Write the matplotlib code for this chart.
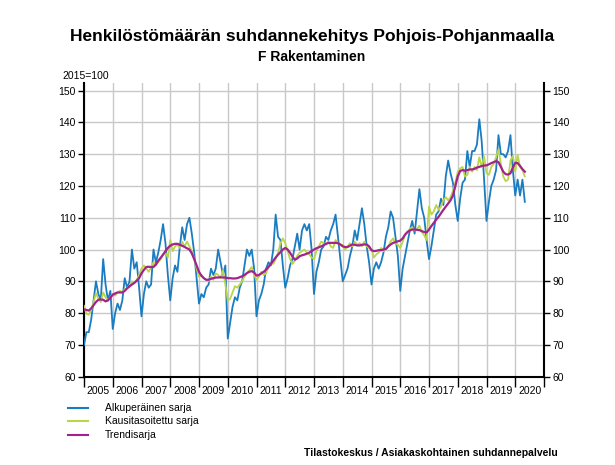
import numpy as np
import matplotlib
matplotlib.use("Agg")
import matplotlib.pyplot as plt
from matplotlib.ticker import FixedLocator, NullFormatter, FixedFormatter

plt.rcParams['font.family'] = ['Liberation Sans', 'DejaVu Sans']

title = "Henkilöstömäärän suhdannekehitys Pohjois-Pohjanmaalla"
subtitle = "F Rakentaminen"
base_label = "2015=100"
source = "Tilastokeskus / Asiakaskohtainen suhdannepalvelu"
series_names = ["Alkuperäinen sarja", "Kausitasoitettu sarja", "Trendisarja"]
start_year = 2005
years = list(range(2005, 2021))

# Monthly values, Jan 2005 - May 2020
original = [
    70, 74, 74, 78, 84, 90, 86, 84, 97, 89, 84, 87,            # 2005
    75, 80, 83, 81, 84, 91, 88, 90, 100, 94, 96, 88,           # 2006
    79, 86, 90, 88, 89, 100, 96, 99, 103, 108, 102, 92,        # 2007
    84, 91, 95, 93, 101, 107, 103, 108, 110, 105, 99, 91,      # 2008
    83, 86, 85, 88, 89, 94, 92, 94, 100, 96, 92, 95,           # 2009
    72, 77, 82, 85, 84, 88, 90, 95, 100, 98, 100, 94,          # 2010
    79, 84, 86, 89, 94, 96, 95, 100, 111, 104, 103, 95,        # 2011
    88, 91, 95, 97, 101, 105, 100, 106, 108, 106, 108, 100,    # 2012
    86, 93, 96, 100, 101, 104, 103, 106, 108, 111, 104, 97,    # 2013
    90, 92, 94, 98, 101, 106, 103, 108, 113, 108, 101, 96,     # 2014
    89, 94, 96, 94, 96, 99, 104, 107, 112, 110, 104, 98,       # 2015
    87, 94, 98, 102, 106, 109, 105, 112, 119, 113, 110, 103,   # 2016
    97, 101, 106, 111, 112, 116, 114, 123, 128, 124, 121, 114, # 2017
    109, 116, 121, 122, 131, 126, 131, 131, 133, 141, 134, 122, # 2018
    109, 115, 120, 122, 125, 136, 130, 130, 129, 131, 136, 125, # 2019
    117, 122, 117, 122, 115,                                   # 2020
]

seasonal_adj = [
    82.3, 79.8, 79.5, 81.0, 83.5, 86.3, 84.5, 83.5, 86.5, 85.0, 84.0, 85.0,
    86.0, 85.5, 86.5, 87.0, 86.5, 87.5, 88.0, 88.5, 90.0, 89.5, 90.5, 92.0,
    94.0, 95.0, 94.0, 93.0, 94.5, 96.0, 95.0, 96.0, 97.0, 98.5, 99.0, 97.5,
    103.0, 99.5, 101.0, 101.5, 100.5, 102.5, 101.0, 102.5, 101.0, 99.5, 97.0, 94.0,
    91.5, 92.0, 91.0, 90.5, 90.0, 91.5, 90.5, 92.5, 92.0, 91.0, 93.5, 89.0,
    84.0, 84.5, 86.5, 88.5, 88.0, 89.0, 90.0, 91.5, 92.5, 93.5, 94.5, 92.0,
    90.5, 91.5, 93.0, 92.0, 92.5, 94.5, 95.5, 95.5, 97.0, 99.0, 102.0, 103.5,
    102.0, 99.5, 97.0, 95.5, 96.5, 98.0, 99.0, 99.5, 100.0, 99.0, 98.5, 97.5,
    97.0, 99.5, 101.0, 102.5, 102.0, 101.5, 102.5, 101.0, 100.5, 103.0, 102.0, 101.5,
    101.5, 100.0, 101.0, 102.0, 101.0, 102.5, 101.5, 102.0, 101.0, 102.5, 101.0, 100.5,
    100.0, 97.5, 98.5, 99.0, 100.5, 99.5, 100.0, 101.0, 102.5, 103.5, 102.0, 101.5,
    100.5, 102.5, 104.5, 105.5, 106.5, 107.0, 106.0, 106.5, 107.5, 105.5, 104.5, 103.0,
    113.5, 111.0, 112.0, 114.0, 112.5, 113.5, 115.5, 116.5, 115.5, 116.5, 118.5, 121.0,
    124.5, 125.5, 126.0, 123.0, 123.5, 126.0, 124.5, 126.0, 125.0, 129.0, 126.0, 129.3,
    124.0, 123.5, 126.0, 127.0, 129.0, 131.5, 127.0, 123.0, 121.5, 122.0, 128.0, 129.5,
    124.5, 129.8, 126.0, 125.0, 123.0,
]

trend = [
    81.2, 81.0, 80.8, 81.5, 82.5, 83.5, 84.2, 84.3, 84.2, 83.7, 84.0, 84.8,
    85.8, 86.2, 86.5, 86.5, 86.5, 87.0, 87.8, 88.4, 89.0, 89.5, 90.2, 91.0,
    92.5, 93.6, 94.5, 94.6, 94.5, 94.5, 95.3, 96.5, 97.4, 98.4, 99.5, 100.5,
    101.2, 101.6, 101.8, 101.8, 101.5, 101.2, 100.8, 100.4, 100.0, 98.8, 97.0, 95.0,
    93.0, 91.8, 91.0, 90.5, 90.5, 90.8, 91.0, 91.2, 91.2, 91.3, 91.2, 91.2,
    91.0, 91.0, 90.9, 90.9, 91.0, 91.3, 91.6, 92.0, 92.6, 93.0, 93.2, 92.8,
    91.8, 92.0, 92.5, 93.0, 93.7, 94.5, 95.5, 96.5, 97.5, 98.4, 99.2, 100.0,
    100.5, 100.0, 99.0, 97.8, 96.8, 97.2, 97.9, 98.2, 98.4, 98.7, 99.0, 99.5,
    100.0, 100.4, 100.7, 101.0, 101.4, 101.8, 102.1, 102.1, 102.1, 102.1, 102.0, 101.6,
    101.0, 100.8, 100.8, 101.2, 101.6, 101.5, 101.3, 101.3, 101.5, 101.6, 101.6, 101.0,
    99.8, 99.5, 99.6, 99.8, 99.8, 100.0, 100.2, 101.0, 101.6, 102.1, 102.3, 102.6,
    102.8, 103.5, 104.7, 105.5, 106.0, 106.3, 106.3, 106.2, 106.1, 105.8, 105.5, 105.4,
    106.3, 107.4, 108.4, 109.4, 110.3, 111.4, 112.5, 113.5, 114.5, 115.5, 117.0, 120.0,
    123.0, 124.7, 125.0, 124.8, 125.0, 125.2, 125.2, 125.4, 125.8, 126.0, 126.3, 126.4,
    126.5, 126.8, 127.2, 127.5, 127.8, 127.5, 126.0, 124.5, 123.7, 123.6, 124.0, 125.8,
    127.3, 127.2, 126.3, 125.3, 124.5,
]

colors = ["#1a7cc1", "#b9d54a", "#a3228e"]

t = start_year + np.arange(len(original)) / 12.0

fig = plt.figure(figsize=(6.15, 4.65), dpi=100)
ax = fig.add_axes([84 / 615, 1 - 376.7 / 465, (544 - 84) / 615, (376.7 - 83.3) / 465])

ax.plot(t, original, color=colors[0], lw=1.3, zorder=3)
ax.plot(t, seasonal_adj, color=colors[1], lw=1.3, zorder=4)
ax.plot(t, trend, color=colors[2], lw=1.6, zorder=5)

ax.set_xlim(2005, 2021)
ax.set_ylim(60, 152.3)

ax.yaxis.set_major_locator(FixedLocator(list(range(60, 151, 10))))
ax.xaxis.set_major_locator(FixedLocator(list(range(2005, 2022))))
ax.xaxis.set_major_formatter(NullFormatter())
ax.xaxis.set_minor_locator(FixedLocator([y + 0.5 for y in years]))
ax.xaxis.set_minor_formatter(FixedFormatter([str(y) for y in years]))

ax.grid(True, which='major', color='#c8c8c8', lw=1.0, zorder=0)
ax.tick_params(axis='x', which='major', direction='out', length=7, width=1.0, color='black')
ax.tick_params(axis='x', which='minor', length=0, pad=7, labelsize=7.5)
ax.tick_params(axis='y', which='major', direction='out', length=4, width=1.0,
               labelsize=7.5, left=True, right=True, labelleft=True, labelright=True, pad=2)

for s in ['left', 'right', 'bottom']:
    ax.spines[s].set_color('black')
    ax.spines[s].set_linewidth(1.5)
ax.spines['top'].set_visible(False)

fig.text(312 / 615, 1 - 37 / 465, title, ha='center', va='center', fontsize=12.5, fontweight='bold')
fig.text(312 / 615, 1 - 57 / 465, subtitle, ha='center', va='center', fontsize=10, fontweight='bold')
fig.text(62 / 615, 1 - 76 / 465, base_label, ha='left', va='center', fontsize=7.5)

leg_y = [408, 421, 435]
for name, c, yy in zip(series_names, colors, leg_y):
    fig.add_artist(plt.Line2D([68 / 615, 88 / 615], [1 - yy / 465, 1 - yy / 465], color=c, lw=1.5))
    fig.text(105 / 615, 1 - yy / 465, name, ha='left', va='center', fontsize=7.5)

fig.text(558 / 615, 1 - 453 / 465, source, ha='right', va='center', fontsize=7.5, fontweight='bold')

fig.savefig("out.png", dpi=100)
